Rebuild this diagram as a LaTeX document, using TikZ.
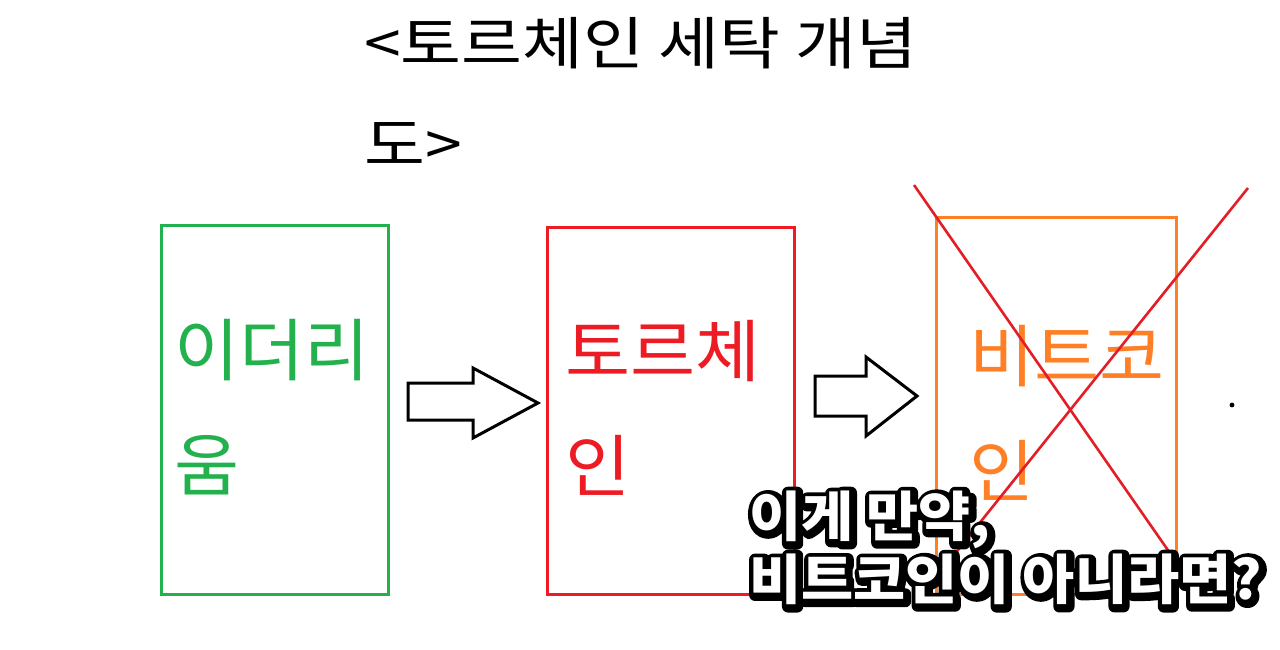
\documentclass[tikz,border=0pt]{standalone}
\usepackage{fontspec}
\setmainfont{Noto Sans CJK KR}
\newfontfamily\titlefont[FakeStretch=1.16]{Noto Sans CJK KR}
\newfontfamily\boxfont[FakeStretch=1.04]{Noto Sans CJK KR}
\newfontfamily\calloutfont[FakeStretch=1.05]{Noto Sans CJK KR}
\definecolor{pgreen}{HTML}{22B14C}
\definecolor{pred}{HTML}{ED1C24}
\definecolor{porange}{HTML}{FF7F27}
\definecolor{xred}{HTML}{E41E26}
\newcommand\olstroke[1]{\special{pdf:literal direct 1 Tr 12 w 1 j 1 J}#1\special{pdf:literal direct 0 Tr}}
\newcommand\outl[1]{\rlap{\kern1.5pt\lower1.5pt\hbox{\color{black}\olstroke{#1}}}{\color{white}#1}}
\tikzset{
  panel/.style={draw, line width=3pt, inner sep=0pt},
  boxtext/.style={anchor=north west, inner sep=0pt, align=left, font=\boxfont\fontsize{68}{115}\selectfont},
  blockarrow/.style={draw=black, line width=3pt, fill=white, line join=miter},
  cross/.style={draw=xred, line width=2.6pt},
  bigtitle/.style={anchor=north west, inner sep=0pt, align=left, font=\titlefont\fontsize{57}{101}\selectfont},
  callout/.style={anchor=north west, inner sep=0pt, align=left, font=\calloutfont\bfseries\fontsize{54}{63}\selectfont}
}
\begin{document}
\begin{tikzpicture}[x=1pt,y=-1pt]
\useasboundingbox[fill=white] (0,0) rectangle (1280,650);
% title
\node[bigtitle] (title) at (364,17) {<토르체인 세탁 개념\\도>};
% boxes
\node[panel, draw=pgreen, minimum width=227pt, minimum height=369pt, anchor=north west] (eth) at (159.5,224) {};
\node[panel, draw=pred, minimum width=247pt, minimum height=367pt, anchor=north west] (tor) at (546,226) {};
\node[panel, draw=porange, minimum width=240pt, minimum height=377pt, anchor=north west] (btc) at (935,216) {};
\node[boxtext, text=pgreen] (ethtxt) at (174,319) {이더리\\움};
\node[boxtext, text=pred] (tortxt) at (565,320) {토르체\\인};
\node[boxtext, text=porange] (btctxt) at (969,325) {비트코\\인};
% arrows
\coordinate (a1) at (408,383);
\coordinate (a2) at (538,403);
\draw[blockarrow] (a1) -- (473,383) -- (473,368) -- (a2) -- (473,438) -- (473,420) -- (408,420) -- cycle;
\coordinate (b1) at (815,376);
\coordinate (b2) at (917,396);
\draw[blockarrow] (b1) -- (866,376) -- (866,357) -- (b2) -- (866,436) -- (866,416) -- (815,416) -- cycle;
% cross
\coordinate (x1) at (914,185);
\coordinate (x2) at (1172,556);
\coordinate (x3) at (1248,188);
\coordinate (x4) at (950,560);
\draw[cross] (x1) -- (x2);
\draw[cross] (x3) -- (x4);
% dot
\fill (1232,405) circle (2.4pt);
% callout
\node[callout] (q) at (749,491) {\outl{이게 만약,}\\\outl{비트코인이 아니라면?}};
\end{tikzpicture}
\end{document}
